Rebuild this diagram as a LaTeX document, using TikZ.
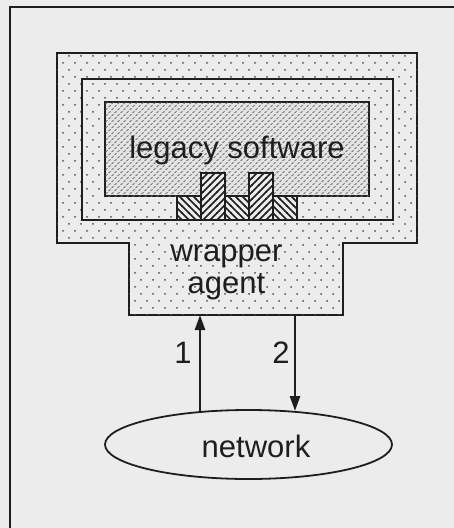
\documentclass[tikz,border=0pt]{standalone}
\usepackage{fontspec}
\setmainfont{Liberation Sans}
\usetikzlibrary{patterns,arrows.meta,shapes.geometric}
\pgfdeclarepatternformonly{sparsedots}{\pgfpoint{-1pt}{-1pt}}{\pgfpoint{13pt}{15pt}}{\pgfpoint{12pt}{14pt}}{%
 \pgfpathcircle{\pgfpoint{3pt}{3pt}}{1pt}%
 \pgfpathcircle{\pgfpoint{9pt}{10pt}}{1pt}%
 \pgfusepath{fill}}
\pgfdeclarepatternformonly{dashtex}{\pgfpoint{-1pt}{-1pt}}{\pgfpoint{7pt}{7pt}}{\pgfpoint{6pt}{6pt}}{%
 \pgfsetlinewidth{0.8pt}%
 \pgfpathmoveto{\pgfpoint{0.5pt}{1pt}}\pgfpathlineto{\pgfpoint{2.5pt}{2.6pt}}%
 \pgfpathmoveto{\pgfpoint{3.5pt}{4pt}}\pgfpathlineto{\pgfpoint{5.5pt}{5.6pt}}%
 \pgfusepath{stroke}}
\pgfdeclarepatternformonly{hatchNE}{\pgfpoint{-1pt}{-1pt}}{\pgfpoint{8pt}{8pt}}{\pgfpoint{7pt}{7pt}}{%
 \pgfsetlinewidth{1.5pt}%
 \pgfpathmoveto{\pgfpoint{-0.5pt}{-0.5pt}}\pgfpathlineto{\pgfpoint{7.5pt}{7.5pt}}%
 \pgfusepath{stroke}}
\pgfdeclarepatternformonly{hatchNW}{\pgfpoint{-1pt}{-1pt}}{\pgfpoint{8pt}{8pt}}{\pgfpoint{7pt}{7pt}}{%
 \pgfsetlinewidth{1.5pt}%
 \pgfpathmoveto{\pgfpoint{-0.5pt}{7.5pt}}\pgfpathlineto{\pgfpoint{7.5pt}{-0.5pt}}%
 \pgfusepath{stroke}}
\definecolor{bg}{RGB}{236,236,236}
\definecolor{ink}{RGB}{30,30,30}
\definecolor{dotc}{RGB}{80,80,80}
\definecolor{legfill}{RGB}{228,228,228}
\definecolor{texc}{RGB}{105,105,105}
\tikzset{
  outline/.style={draw=ink, line width=2.2pt},
  dotted area/.style={outline, fill=bg, postaction={pattern=sparsedots, pattern color=dotc}},
  legacy area/.style={outline, fill=legfill, postaction={pattern=dashtex, pattern color=texc}},
  blockA/.style={draw=ink, line width=1.8pt, fill=bg, postaction={pattern=hatchNW, pattern color=ink}},
  blockB/.style={draw=ink, line width=1.8pt, fill=bg, postaction={pattern=hatchNE, pattern color=ink}},
  lbl/.style={font=\fontsize{31}{31}\selectfont, text=ink, inner sep=0pt, anchor=base},
  flow/.style={draw=ink, line width=2.6pt, -{Triangle[length=15pt,width=10pt]}},
}
\begin{document}
\begin{tikzpicture}[x=1pt,y=-1pt]
\useasboundingbox (0,0) rectangle (454,528);
\fill[bg] (0,0) rectangle (454,528);
% frame
\draw[ink, line width=2pt] (10,530) -- (10,7) -- (456,7);
% wrapper T-shape
\path[dotted area] (57,53) -- (417,53) -- (417,243) -- (343,243) -- (343,315)
  -- (129,315) -- (129,243) -- (57,243) -- cycle;
% middle rectangle
\draw[outline] (82,79) rectangle (393,220);
% legacy software
\path[legacy area] (105,102) rectangle (369,196);
% hatched blocks
\path[blockA] (177,196) rectangle (201,220);
\path[blockB] (201,173) rectangle (225,220);
\path[blockA] (225,196) rectangle (249,220);
\path[blockB] (249,173) rectangle (273,220);
\path[blockA] (273,196) rectangle (297,220);
% texts
\node[lbl] (legacy) at (237,158) {legacy software};
\node[lbl] (wrapper) at (226.5,261) {wrapper};
\node[lbl] (agent) at (226.5,293) {agent};
% network
\node[draw=ink, line width=1.8pt, ellipse, fill=bg, minimum width=287pt, minimum height=69pt, inner sep=0pt] (net) at (248.5,444.5) {};
\node[lbl] (netlabel) at (256,457) {network};
% arrows
\coordinate (w1) at (200,315);
\coordinate (w2) at (295,315);
\coordinate (n1) at (200,411);
\coordinate (n2) at (295,411);
\draw[flow] (n1) -- (w1);
\draw[flow] (w2) -- (n2);
\node[lbl] (one) at (183,363) {1};
\node[lbl] (two) at (281,363) {2};
\end{tikzpicture}
\end{document}
